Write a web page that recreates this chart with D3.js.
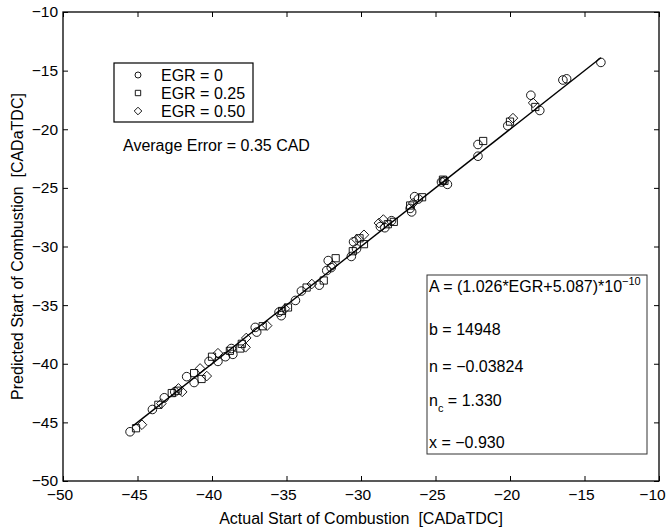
<!DOCTYPE html>
<html>
<head>
<meta charset="utf-8">
<script src="https://cdn.jsdelivr.net/npm/d3@7"></script>
<style>
  body { margin: 0; background: #fff; }
  text { font-family: "Liberation Sans", Arial, sans-serif; fill: #000; white-space: pre; }
</style>
</head>
<body>
<svg id="chart" width="666" height="529"></svg>
<script>
// data: [actual, predicted] start of combustion
var egr0 = [
  [-45.5,-45.8],[-44.0,-43.9],[-43.2,-42.9],[-42.5,-42.4],[-41.7,-41.1],[-41.2,-41.6],
  [-40.2,-39.8],[-39.6,-39.8],[-39.1,-39.4],[-38.7,-38.7],[-38.6,-39.2],[-37.1,-36.9],
  [-37.0,-37.3],[-35.5,-35.6],[-35.35,-35.9],[-34.4,-34.6],[-34.0,-33.8],[-32.8,-33.3],
  [-32.3,-32.05],[-32.2,-31.2],[-32.0,-31.8],[-30.65,-30.85],[-30.5,-29.6],[-30.3,-30.2],
  [-28.7,-28.3],[-28.4,-28.4],[-27.95,-27.8],[-26.6,-27.05],[-26.7,-26.75],[-26.4,-25.75],
  [-26.15,-25.95],[-24.6,-24.5],[-24.2,-24.7],[-22.15,-22.3],[-22.15,-21.3],[-20.15,-19.7],
  [-18.6,-17.1],[-18.0,-18.4],[-16.45,-15.8],[-16.2,-15.7],[-13.9,-14.3]
];
var egr25 = [
  [-45.1,-45.5],[-43.6,-43.5],[-42.7,-42.5],[-42.3,-42.3],[-41.2,-40.8],[-40.7,-41.3],
  [-40.0,-39.4],[-38.8,-38.9],[-38.1,-38.7],[-38.0,-38.3],[-36.6,-36.8],[-35.3,-35.5],
  [-34.9,-35.2],[-33.65,-33.5],[-32.5,-32.9],[-31.7,-31.0],[-30.55,-30.4],[-30.1,-29.3],
  [-29.8,-29.8],[-28.2,-28.1],[-27.8,-27.9],[-26.7,-26.5],[-25.9,-25.8],[-24.5,-24.3],
  [-24.4,-24.4],[-21.8,-21.0],[-20.0,-19.35],[-18.3,-18.1]
];
var egr50 = [
  [-44.7,-45.2],[-43.4,-43.4],[-42.25,-42.1],[-42.0,-42.4],[-40.8,-40.4],[-40.35,-41.05],
  [-39.6,-39.1],[-37.75,-38.6],[-37.7,-37.8],[-36.3,-36.75],[-35.1,-35.3],[-33.3,-33.2],
  [-31.9,-31.6],[-30.3,-29.4],[-29.8,-29.0],[-28.8,-28.0],[-28.5,-27.7],[-26.5,-26.3],
  [-24.45,-24.4],[-19.8,-19.05],[-18.45,-17.75]
];
var fitLine = [[-45.3,-45.3],[-13.9,-13.9]];
var xTicks = [-50,-45,-40,-35,-30,-25,-20,-15,-10];
var yTicks = [-50,-45,-40,-35,-30,-25,-20,-15,-10];
var legendLabels = ["EGR = 0", "EGR = 0.25", "EGR = 0.50"];

var svg = d3.select("#chart");
var L = 63, R = 659, T = 12, B = 481;

var x = d3.scaleLinear().domain([-50,-10]).range([L,R]);
var y = d3.scaleLinear().domain([-50,-10]).range([B,T]);

// marker shapes (MATLAB style: open circle, square, diamond)
function marker(kind, s) {
  if (kind == "o") return d3.symbol().type(d3.symbolCircle).size(Math.PI*s*s)();
  if (kind == "s") return "M" + (-s) + "," + (-s) + "h" + 2*s + "v" + 2*s + "h" + (-2*s) + "Z";
  return "M0," + (-s) + "L" + s + ",0L0," + s + "L" + (-s) + ",0Z";
}

// axes, ticks pointing in
var fmt = d3.format("d");
var gx = svg.append("g").attr("transform","translate(0," + B + ")")
  .call(d3.axisBottom(x).tickValues(xTicks).tickSize(-5).tickPadding(8).tickFormat(fmt));
var gy = svg.append("g").attr("transform","translate(" + L + ",0)")
  .call(d3.axisLeft(y).tickValues(yTicks).tickSize(-5).tickPadding(5).tickFormat(fmt));
svg.append("g").attr("transform","translate(0," + T + ")")
  .call(d3.axisTop(x).tickValues(xTicks).tickSize(-5).tickFormat(""));
svg.append("g").attr("transform","translate(" + R + ",0)")
  .call(d3.axisRight(y).tickValues(yTicks).tickSize(-5).tickFormat(""));
svg.selectAll(".domain").remove();
svg.selectAll(".tick line").attr("stroke","#000");
svg.selectAll(".tick text").style("font-size","15.5px")
  .style("font-family","Liberation Sans, Arial, sans-serif").attr("fill","#000");
// x labels sit a little left of their ticks, the last one pulled in to fit the page
gx.selectAll(".tick text").attr("dx", (d, i) => i == xTicks.length - 1 ? -7 : -3.5);

svg.append("rect").attr("x",L).attr("y",T).attr("width",R-L).attr("height",B-T)
  .attr("fill","none").attr("stroke","#000").attr("stroke-width",1.3);

// y = x line
svg.append("path").datum(fitLine)
  .attr("d", d3.line().x(d => x(d[0])).y(d => y(d[1])))
  .attr("fill","none").attr("stroke","#000").attr("stroke-width",1.4);

var series = [[egr0,"o",4.3],[egr25,"s",3.6],[egr50,"d",4.8]];
series.forEach(function(sr) {
  svg.append("g").selectAll("path").data(sr[0]).enter().append("path")
    .attr("transform", d => "translate(" + x(d[0]) + "," + y(d[1]) + ")")
    .attr("d", marker(sr[1], sr[2]))
    .attr("fill","none").attr("stroke","#000").attr("stroke-width",0.9);
});

// axis titles
svg.append("text").attr("x",(L+R)/2).attr("y",524).attr("text-anchor","middle")
  .style("font-size","16px").text("Actual Start of Combustion  [CADaTDC]");
svg.append("text").attr("transform","translate(23," + (T+B)/2 + ") rotate(-90)")
  .attr("text-anchor","middle").style("font-size","16px")
  .text("Predicted Start of Combustion  [CADaTDC]");

// legend
var leg = svg.append("g");
leg.append("rect").attr("x",114).attr("y",63).attr("width",139).attr("height",59)
  .attr("fill","#fff").attr("stroke","#000").attr("stroke-width",1.2);
var legKinds = [["o",3],["s",2.7],["d",3.8]];
legendLabels.forEach(function(t, i) {
  var cy = 75 + i*18;
  leg.append("path").attr("transform","translate(138," + cy + ")")
    .attr("d", marker(legKinds[i][0], legKinds[i][1]))
    .attr("fill","none").attr("stroke","#000").attr("stroke-width",0.9);
  leg.append("text").attr("x",161).attr("y",cy+5.5).style("font-size","16px").text(t);
});

svg.append("text").attr("x",123).attr("y",150.5).style("font-size","16px")
  .text("Average Error = 0.35 CAD");

// parameter box
var box = svg.append("g");
box.append("rect").attr("x",427).attr("y",275).attr("width",220).attr("height",179)
  .attr("fill","#fff").attr("stroke","#333").attr("stroke-width",1);
var tA = box.append("text").attr("x",429).attr("y",292).style("font-size","16px");
tA.append("tspan").text("A = (1.026*EGR+5.087)*10");
tA.append("tspan").attr("dy",-7).style("font-size","11px").text("\u221210");
box.append("text").attr("x",429).attr("y",335).style("font-size","16px").text("b = 14948");
box.append("text").attr("x",429).attr("y",372).style("font-size","16px").text("n = \u22120.03824");
var tn = box.append("text").attr("x",429).attr("y",406).style("font-size","16px");
tn.append("tspan").text("n");
tn.append("tspan").attr("dy",6).style("font-size","11px").text("c");
tn.append("tspan").attr("dy",-6).text(" = 1.330");
box.append("text").attr("x",429).attr("y",448).style("font-size","16px").text("x = \u22120.930");
</script>
</body>
</html>
